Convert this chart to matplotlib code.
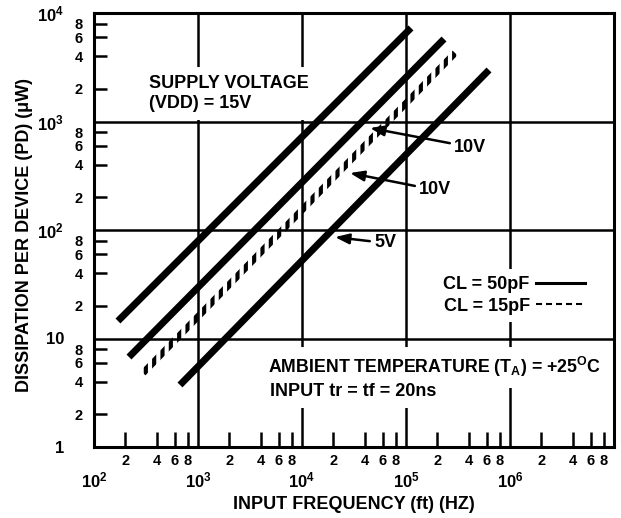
import matplotlib
matplotlib.use('Agg')
import matplotlib.pyplot as plt
import numpy as np
from matplotlib.patches import Polygon
from matplotlib.transforms import IdentityTransform
from matplotlib.lines import Line2D

# ---- data ----
series_labels = ['15V, CL=50pF', '10V, CL=50pF', '10V, CL=15pF', '5V, CL=50pF']
series_dashed = [False, False, True, False]
freq_start = [170, 217, 296, 671]            # Hz
freq_end = [1.117e5, 2.32e5, 2.96e5, 6.28e5]  # Hz
pd_start = [14.5, 6.75, 4.81, 3.73]          # uW
pd_end = [7280, 5760, 4280, 2985]            # uW

x_major = [1e2, 1e3, 1e4, 1e5, 1e6]
x_major_labels = ['$10^{2}$', '$10^{3}$', '$10^{4}$', '$10^{5}$', '$10^{6}$']
y_major = [1, 10, 100, 1000, 10000]
y_major_labels = ['1', '10', '$10^{2}$', '$10^{3}$', '$10^{4}$']
minor_mult = [2, 4, 6, 8]
minor_labels = ['2', '4', '6', '8']
legend_labels = ['CL = 50pF', 'CL = 15pF']

plt.rcParams.update({
    'font.family': 'Liberation Sans',
    'font.weight': 'bold',
    'axes.labelweight': 'bold',
    'mathtext.fontset': 'custom',
    'mathtext.rm': 'Liberation Sans:bold',
    'mathtext.bf': 'Liberation Sans:bold',
    'mathtext.it': 'Liberation Sans:bold',
    'mathtext.default': 'bf',
    'hatch.linewidth': 3.0,
})

fig = plt.figure(figsize=(6.21, 5.18), dpi=100)
ax = fig.add_axes([94 / 621, (518 - 447) / 518, 520 / 621, 434 / 518])
ax.set_xscale('log')
ax.set_yscale('log')
ax.set_xlim(1e2, 1e7)
ax.set_ylim(1, 1e4)

x_minor = [m * 10 ** d for d in range(2, 7) for m in minor_mult]
y_minor = [m * 10 ** d for d in range(0, 4) for m in minor_mult]
ax.set_xticks(x_major, x_major_labels)
ax.set_xticks(x_minor, minor_labels * 5, minor=True)
ax.set_yticks(y_major, y_major_labels)
ax.set_yticks(y_minor, minor_labels * 4, minor=True)

ax.tick_params(axis='x', which='major', length=0, pad=17, labelsize=12)
ax.tick_params(axis='x', which='minor', direction='in', length=10.8, width=1.8,
               pad=5, labelsize=10.5)
ax.tick_params(axis='y', which='major', length=0, pad=21.5, labelsize=12)
ax.tick_params(axis='y', which='minor', direction='in', length=9.4, width=1.8,
               pad=8, labelsize=10.5)

for s in ax.spines.values():
    s.set_linewidth(2.2)
ax.set_axisbelow(True)
ax.grid(which='major', color='black', lw=1.8)

# ---- lines ----
for i in range(len(series_labels)):
    if not series_dashed[i]:
        ax.plot([freq_start[i], freq_end[i]], [pd_start[i], pd_end[i]],
                color='black', lw=5, solid_capstyle='butt', zorder=3)
    else:
        p0 = ax.transData.transform((freq_start[i], pd_start[i]))
        p1 = ax.transData.transform((freq_end[i], pd_end[i]))
        d = p1 - p0
        nrm = np.array([-d[1], d[0]]) / np.hypot(*d) * 3.4
        verts = [p0 + nrm, p1 + nrm, p1 - nrm, p0 - nrm]
        poly = Polygon(verts, closed=True, transform=IdentityTransform(),
                       facecolor='none', edgecolor='black', lw=0,
                       hatch='||', zorder=3)
        ax.add_patch(poly)

# ---- texts ----
box = dict(facecolor='white', edgecolor='none', pad=6)
ax.text(0.106, 0.857, 'SUPPLY VOLTAGE\n(VDD) = 15V', transform=ax.transAxes,
        ha='left', va='top', fontsize=13, bbox=box, zorder=1)
ax.text(0.335, 0.184, 'AMBIENT TEMPERATURE (T$_{A}$) = +25$^{O}$C',
        transform=ax.transAxes, ha='left', va='center', fontsize=12.8,
        bbox=box, zorder=1)
ax.text(0.338, 0.129, 'INPUT tr = tf = 20ns', transform=ax.transAxes,
        ha='left', va='center', fontsize=13, bbox=box, zorder=1)

arrow = dict(arrowstyle='-|>,head_length=0.6,head_width=0.22', mutation_scale=14,
             color='black', lw=1.8, shrinkA=1, shrinkB=0)
ax.annotate('10V', xy=(45100, 871), xytext=(2.894e5, 582), ha='left', va='center',
            fontsize=13, arrowprops=arrow, zorder=4)
ax.annotate('10V', xy=(28900, 335), xytext=(1.334e5, 234), ha='left', va='center',
            fontsize=13, arrowprops=arrow, zorder=4)
ax.annotate('5V', xy=(20750, 86), xytext=(4.92e4, 76), ha='left', va='center',
            fontsize=13, arrowprops=arrow, zorder=4)

# ---- legend ----
h1 = Line2D([], [], color='black', lw=2.2)
h2 = Line2D([], [], color='black', lw=1.5, linestyle=(0, (2.9, 1.9)))
ax.legend([h1, h2], legend_labels, loc='upper left', bbox_to_anchor=(0.658, 0.41),
          markerfirst=False, frameon=True, fancybox=False, framealpha=1,
          edgecolor='none', facecolor='white', fontsize=13, handlelength=2.7,
          handletextpad=0.35, labelspacing=0.25, borderpad=0.4, borderaxespad=0)

ax.set_xlabel('INPUT FREQUENCY (ft) (HZ)', fontsize=13, fontweight='bold')
ax.xaxis.set_label_coords(0.5, -0.113)
ax.set_ylabel('DISSIPATION PER DEVICE (PD) (μW)', fontsize=13, fontweight='bold')
ax.yaxis.set_label_coords(-0.117, 0.488)

fig.savefig('out.png', dpi=100)
